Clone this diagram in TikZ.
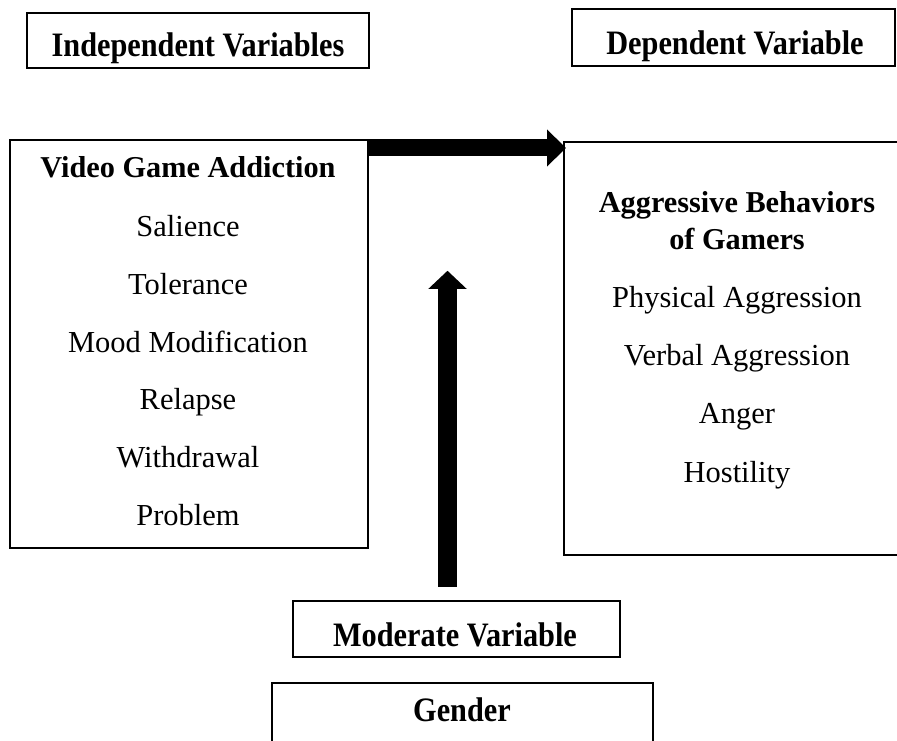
\documentclass[tikz,border=0pt]{standalone}
\usepackage{fontspec}
\setmainfont{Liberation Serif}
\usetikzlibrary{arrows.meta,calc}
\tikzset{
  box/.style={draw=black, line width=2pt, inner sep=0pt, fill=none},
  hbox/.style={draw=black, line width=2.5pt, inner sep=0pt},
  txt/.style={anchor=base, inner sep=0pt, font=\fontsize{30.5}{36}\selectfont},
  btxt/.style={anchor=base, inner sep=0pt, font=\fontsize{30.3}{36}\selectfont\bfseries},
  htxt/.style={anchor=base, inner sep=0pt, font=\fontsize{30.3}{36}\selectfont\bfseries, yscale=1.13},
}
\begin{document}
\begin{tikzpicture}[x=1pt,y=-1pt]
\useasboundingbox (0,0) rectangle (897,741);
\fill[white] (0,0) rectangle (897,741);
% header boxes
\node[hbox, minimum width=342pt, minimum height=55pt] (IV) at (198,40.5) {};
\node[htxt] (IVt) at (198,57) {Independent Variables};
\node[hbox, minimum width=323pt, minimum height=57pt] (DV) at (733.5,37.5) {};
\node[htxt] (DVt) at (735,55) {Dependent Variable};
% main boxes
\node[box, minimum width=358pt, minimum height=408pt] (L) at (189,344) {};
\node[btxt] (L0) at (188,178) {Video Game Addiction};
\node[txt] (L1) at (188,236) {Salience};
\node[txt] (L2) at (188,294) {Tolerance};
\node[txt] (L3) at (188,352) {Mood Modification};
\node[txt] (L4) at (188,409) {Relapse};
\node[txt] (L5) at (188,467) {Withdrawal};
\node[txt] (L6) at (188,525) {Problem};
\node[box, minimum width=341pt, minimum height=413pt] (R) at (734.5,348.5) {};
\node[btxt] (R0) at (737,212) {Aggressive Behaviors};
\node[btxt] (R1) at (737,249) {of Gamers};
\node[txt] (R2) at (737,307) {Physical Aggression};
\node[txt] (R3) at (737,365) {Verbal Aggression};
\node[txt] (R4) at (737,423) {Anger};
\node[txt] (R5) at (737,482) {Hostility};
% moderator
\node[hbox, minimum width=327pt, minimum height=56pt] (M) at (456.5,629) {};
\node[htxt] (Mt) at (455,646) {Moderate Variable};
\node[hbox, minimum width=381pt, minimum height=90pt] (G) at (462.5,728) {};
\node[htxt] (Gt) at (462,721) {Gender};
% arrows
\coordinate (hs) at ([yshift=-9pt]L.north east);
\coordinate (he) at ($(R.west |- hs)+(3,0)$);
\draw[line width=17pt, -{Triangle[length=19pt, width=36pt]}] (hs) -- (he);
\coordinate (vs) at ([xshift=-9pt, yshift=13pt]M.north);
\coordinate (ve) at ($(vs)+(0,-316)$);
\draw[line width=19pt, -{Triangle[length=18pt, width=37pt]}] (vs) -- (ve);
\end{tikzpicture}
\end{document}
